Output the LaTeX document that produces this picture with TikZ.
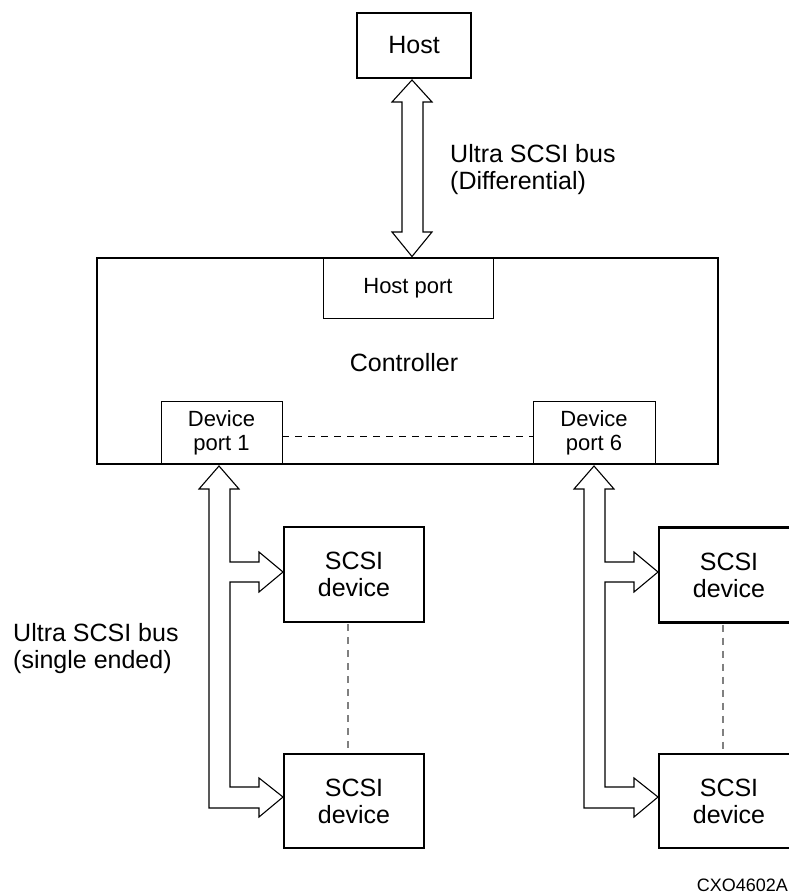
\documentclass[tikz,border=0pt]{standalone}
\usepackage{fontspec}
\setmainfont{Liberation Sans}
\usetikzlibrary{calc}
\begin{document}
\begin{tikzpicture}[x=1pt,y=-1pt,
  thickbox/.style={draw,line width=2.8pt,inner sep=0pt,outer sep=0pt,align=center,font=\fontsize{25}{27}\selectfont},
  portbox/.style={draw,line width=1pt,inner sep=0pt,outer sep=0pt,align=center,font=\fontsize{22}{24}\selectfont},
  bus/.style={draw,line width=1.1pt,fill=white,line join=miter},
  portdash/.style={draw,line width=1pt,dash pattern=on 7pt off 6pt},
  devdash/.style={draw,line width=1.6pt,gray,dash pattern=on 7pt off 6pt},
  lbl/.style={align=left,anchor=west,inner sep=0pt,font=\fontsize{25}{27}\selectfont}]
\useasboundingbox (0,0) rectangle (789,896);
% boxes
\node[thickbox,minimum width=114pt,minimum height=65pt] (host) at (414,45.5) {Host};
\node[portbox,minimum width=170pt,minimum height=60pt] (hport) at (408,288) {Host port};
\node[portbox,minimum width=121pt,minimum height=63pt] (p1) at (221.5,432.5) {Device\\port 1};
\node[portbox,minimum width=122pt,minimum height=63pt] (p6) at (594,432.5) {Device\\port 6};
\node[thickbox,minimum width=621pt,minimum height=206pt] (ctrl) at (407.5,361) {};
\node[inner sep=0pt,font=\fontsize{25}{27}\selectfont] (ctrltext) at (404,363) {Controller};
\node[thickbox,minimum width=140pt,minimum height=95pt] (d1) at (354,574.5) {SCSI\\device};
\node[thickbox,minimum width=140pt,minimum height=94pt] (d2) at (354,801) {SCSI\\device};
\node[thickbox,minimum width=140pt,minimum height=95pt] (d3) at (729,575) {SCSI\\device};
\node[thickbox,minimum width=140pt,minimum height=94pt] (d4) at (729,801) {SCSI\\device};
% dashed links
\draw[portdash] (p1.east |- 0,436) -- (p6.west |- 0,436);
\draw[devdash] ($(d1.south)+(-6,2)$) -- ($(d2.north)+(-6,-2)$);
\draw[devdash] ($(d3.south)+(-6,2)$) -- ($(d4.north)+(-6,-2)$);
% host bus
\draw[bus] ($(412,0 |- host.south)+(0,2)$) -- (432,102) -- (423,102) -- (423,232) -- (432,232)
  -- ($(412,0 |- ctrl.north)+(0,-1.5)$) -- (392,232) -- (402,232) -- (402,102) -- (392,102) -- cycle;
% device buses
\foreach \dx in {0,375}{
\begin{scope}[xshift=\dx]
\draw[bus] (219,466) -- (239,489) -- (230,489) -- (230,562) -- (259,562) -- (259,552) -- (283,572)
  -- (259,592) -- (259,582) -- (230,582) -- (230,787) -- (259,787) -- (259,778) -- (283,797)
  -- (259,817) -- (259,808) -- (209,808) -- (209,489) -- (199,489) -- cycle;
\end{scope}}
% labels
\node[lbl] (lhost) at (450,170) {Ultra SCSI bus\\(Differential)};
\node[lbl] (ldev) at (13,649) {Ultra SCSI bus\\(single ended)};
\node[anchor=east,inner sep=0pt,font=\fontsize{18}{20}\selectfont] (code) at (788,885) {CXO4602A};
\end{tikzpicture}
\end{document}
